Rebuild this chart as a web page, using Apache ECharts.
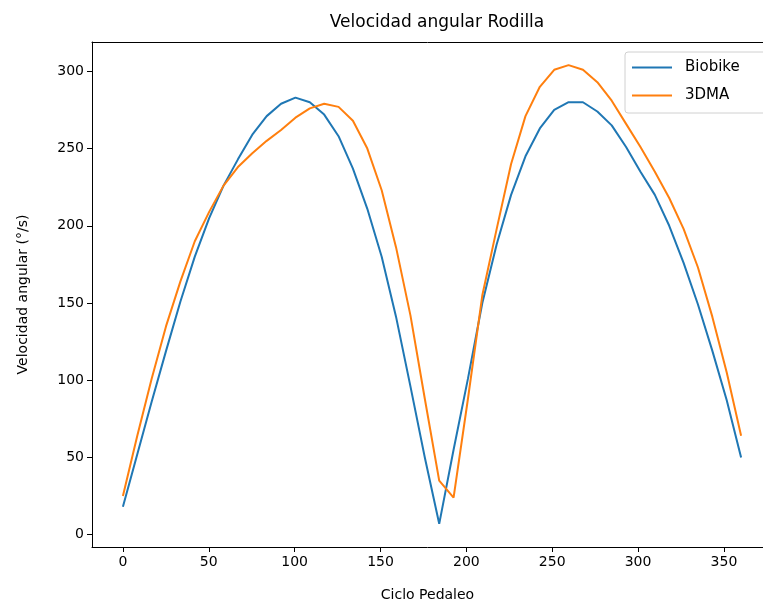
<!DOCTYPE html>
<html>
<head>
<meta charset="utf-8">
<script src="https://cdn.jsdelivr.net/npm/echarts@6/dist/echarts.min.js"></script>
<style>
html,body{margin:0;padding:0;background:#fff;}
#chart{width:763px;height:607px;}
</style>
</head>
<body>
<div id="chart"></div>
<script>
// Ciclo Pedaleo (degrees) sample positions
const cicloPedaleo = [0, 8.37, 16.74, 25.12, 33.49, 41.86, 50.23, 58.60, 66.98, 75.35, 83.72, 92.09, 100.47, 108.84, 117.21, 125.58, 133.95, 142.33, 150.70, 159.07, 167.44, 175.81, 184.19, 192.56, 200.93, 209.30, 217.67, 226.05, 234.42, 242.79, 251.16, 259.53, 267.91, 276.28, 284.65, 293.02, 301.40, 309.77, 318.14, 326.51, 334.88, 343.26, 351.63, 360];
const biobike = [18, 52, 86, 119, 151, 180, 205, 226, 243, 259, 271, 279, 283, 280, 272, 258, 237, 211, 180, 141, 96, 50, 7, 55, 101, 150, 188, 220, 245, 263, 275, 280, 280, 274, 265, 251, 235, 220, 200, 176, 149, 119, 87, 50];
const dma3 = [25, 64, 101, 135, 164, 190, 209, 226, 238, 247, 255, 262, 270, 276, 279, 277, 268, 250, 223, 186, 142, 88, 35, 24, 88, 155, 198, 240, 271, 290, 301, 304, 301, 293, 281, 266, 251, 235, 218, 198, 173, 141, 105, 64];
const xTicks = [0, 50, 100, 150, 200, 250, 300, 350];
const yTicks = [0, 50, 100, 150, 200, 250, 300];

const font = 'DejaVu Sans';
const pairs = (ys) => cicloPedaleo.map((x, i) => [x, ys[i]]);
const X_MIN = -18, X_MAX = 372.75, Y_MIN = -8, Y_MAX = 319;

const chart = echarts.init(document.getElementById('chart'), null, {renderer: 'canvas'});
chart.setOption({
  animation: false,
  backgroundColor: '#fff',
  title: {
    text: 'Velocidad angular Rodilla',
    left: 432, top: 9, textAlign: 'center',
    textStyle: {fontFamily: font, fontSize: 17, fontWeight: 'normal', color: '#000'}
  },
  legend: {
    data: ['Biobike', '3DMA'],
    orient: 'vertical',
    left: 625, top: 52,
    icon: 'rect', itemWidth: 40, itemHeight: 2, itemGap: 13,
    padding: [8, 30, 10, 7],
    borderColor: '#d0d0d0', borderWidth: 1, borderRadius: 3,
    backgroundColor: 'rgba(255,255,255,0.85)',
    textStyle: {fontFamily: font, fontSize: 15, color: '#000', padding: [0, 0, 0, 8]}
  },
  grid: {
    left: 92, top: 42, width: 671, height: 506,
    show: false, containLabel: false
  },
  xAxis: [{
    type: 'value', min: X_MIN, max: X_MAX, position: 'bottom',
    name: 'Ciclo Pedaleo', nameLocation: 'middle', nameGap: 41,
    nameTextStyle: {fontFamily: font, fontSize: 14, color: '#000'},
    axisLine: {show: true, onZero: false, lineStyle: {color: '#000', width: 1}},
    axisTick: {show: true, length: 5, lineStyle: {color: '#000'}, customValues: xTicks},
    axisLabel: {fontFamily: font, fontSize: 14, color: '#000', margin: 8, customValues: xTicks},
    splitLine: {show: false}
  }, {
    type: 'value', min: X_MIN, max: X_MAX, position: 'top',
    axisLine: {show: true, onZero: false, lineStyle: {color: '#000', width: 1}},
    axisTick: {show: false}, axisLabel: {show: false}, splitLine: {show: false}
  }],
  yAxis: {
    type: 'value', min: Y_MIN, max: Y_MAX,
    name: 'Velocidad angular (°/s)', nameLocation: 'middle', nameGap: 62, nameRotate: 90,
    nameTextStyle: {fontFamily: font, fontSize: 14, color: '#000'},
    axisLine: {show: true, onZero: false, lineStyle: {color: '#000', width: 1}},
    axisTick: {show: true, length: 5, lineStyle: {color: '#000'}, customValues: yTicks},
    axisLabel: {fontFamily: font, fontSize: 14, color: '#000', margin: 8, customValues: yTicks},
    splitLine: {show: false}
  },
  series: [
    {name: 'Biobike', type: 'line', data: pairs(biobike), showSymbol: false, symbol: 'none',
     lineStyle: {color: '#1f77b4', width: 2}, itemStyle: {color: '#1f77b4'}},
    {name: '3DMA', type: 'line', data: pairs(dma3), showSymbol: false, symbol: 'none',
     lineStyle: {color: '#ff7f0e', width: 2}, itemStyle: {color: '#ff7f0e'}}
  ]
});
</script>
</body>
</html>
